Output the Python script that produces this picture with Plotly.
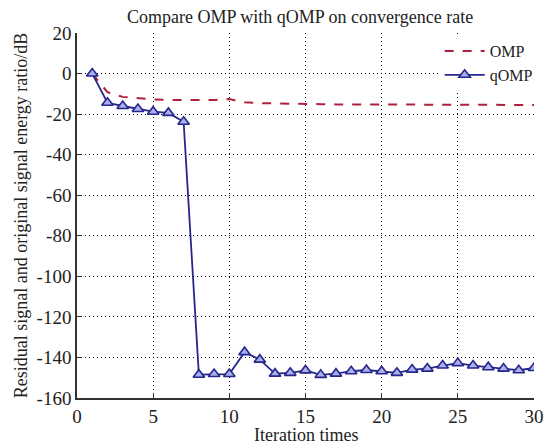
import plotly.graph_objects as go

iters = list(range(1, 31))
omp = [0, -9.2, -11.5, -12.3, -12.8, -13.0, -13.0, -13.0, -13.0, -12.6,
       -14.2, -14.6, -14.8, -14.9, -15.0, -15.1, -15.2, -15.2, -15.3, -15.3,
       -15.3, -15.4, -15.4, -15.4, -15.4, -15.5, -15.5, -15.5, -15.5, -15.5]
qomp = [0, -14.4, -16.0, -17.5, -18.8, -19.4, -23.8, -148.5, -148.2, -148.2,
        -137.4, -141.1, -148.0, -147.6, -146.4, -148.6, -148.0, -146.8, -146.2, -146.8,
        -147.6, -146.0, -145.5, -144.0, -142.8, -144.0, -144.8, -145.5, -146.3, -145.2]

x_ticks = [0, 5, 10, 15, 20, 25, 30]
y_ticks = [20, 0, -20, -40, -60, -80, -100, -120, -140, -160]
y_ticktext = ["20", "0", "-20", "-40", "-60", "-80", "-100", "-120", "-140", "-160"]

FONT = "Liberation Serif, Times New Roman, serif"
TXT = "#222222"

fig = go.Figure()
fig.add_trace(go.Scatter(
    x=iters, y=omp, mode="lines", name="OMP",
    line=dict(color="#b0203c", width=2, dash="dash"),
))
fig.add_trace(go.Scatter(
    x=iters, y=qomp, mode="lines+markers", name="qOMP",
    line=dict(color="#26268c", width=1.8),
    marker=dict(symbol="triangle-up", size=10, color="#a9b0ea",
                line=dict(color="#26268c", width=1.6)),
))

axis_common = dict(
    showline=True, linecolor="#333333", linewidth=1.5,
    ticks="inside", ticklen=5, tickcolor="#333333", tickwidth=1,
    showgrid=True, gridcolor="#000000", griddash="1px,3px", gridwidth=1,
    zeroline=False, mirror=False, layer="below traces",
    tickfont=dict(family=FONT, size=19, color=TXT),
)

fig.update_layout(
    width=548, height=437,
    margin=dict(l=68, r=16, t=25, b=47),
    paper_bgcolor="white", plot_bgcolor="white",
    title=dict(text="Compare OMP with qOMP on convergence rate",
               x=0.533, xanchor="center", y=0.979, yanchor="middle",
               font=dict(family=FONT, size=18, color=TXT)),
    xaxis=dict(range=[0, 30], tickvals=x_ticks, **axis_common),
    yaxis=dict(range=[-160, 20], tickvals=y_ticks, ticktext=y_ticktext,
               title=dict(text="Residual signal and original signal energy ratio/dB",
                          standoff=4,
                          font=dict(family=FONT, size=18, color=TXT)),
               **axis_common),
    legend=dict(x=1.008, xanchor="right", y=0.997, yanchor="top",
                bgcolor="white", borderwidth=0,
                font=dict(family=FONT, size=16, color=TXT),
                tracegroupgap=0, itemwidth=40),
    showlegend=True,
    annotations=[dict(text="Iteration times", xref="paper", yref="paper",
                      x=0.5, y=-0.102, xanchor="center", yanchor="middle",
                      showarrow=False,
                      font=dict(family=FONT, size=18, color=TXT))],
)

fig.write_html("out.html")
